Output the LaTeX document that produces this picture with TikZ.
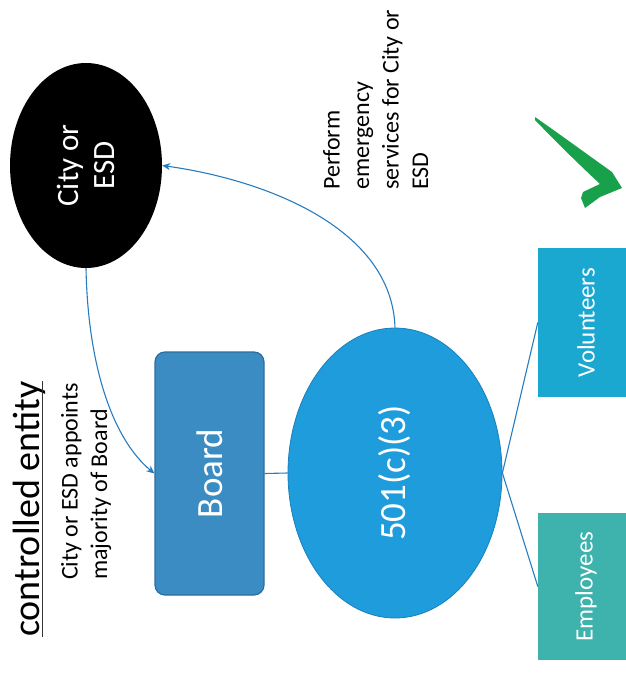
\documentclass[tikz,border=0pt]{standalone}
\usepackage{fontspec}
\setmainfont{Carlito}
\usetikzlibrary{positioning}
\usetikzlibrary{shapes.geometric}
\usetikzlibrary{arrows.meta}
\definecolor{board colour}{RGB}{60,140,196}
\definecolor{board edge}{RGB}{44,108,158}
\definecolor{org colour}{RGB}{30,156,220}
\definecolor{org edge}{RGB}{26,128,188}
\definecolor{volunteer colour}{RGB}{26,168,208}
\definecolor{employee colour}{RGB}{62,178,172}
\definecolor{link colour}{RGB}{40,124,190}
\definecolor{tick colour}{RGB}{24,160,74}
\tikzset{
    % Everything in the slide reads from bottom to top
    upright/.style={rotate=90},
%
    % Shapes
    entity/.style={
        ellipse, upright, inner sep=0, text=white, align=center},
    box/.style={
        rectangle, upright, inner sep=0, text=white, align=center},
%
    % Lines
    link/.style={draw=link colour, line width=1.1pt},
    control/.style={link, -{Stealth[length=8pt, width=7pt]}},
%
    % Text
    note/.style={
        upright, inner sep=0, align=left, anchor=north west,
        font=\fontsize{24}{29.5}\selectfont},
    title text/.style={
        upright, inner sep=0, anchor=base west,
        font=\fontsize{38}{44}\selectfont},
}

\begin{document}
\begin{tikzpicture}[x=1pt, y=-1pt]
    \useasboundingbox (0,0) rectangle (626,673);

    % Title and notes
    \node [title text] (title) at (39,637) {controlled entity};
    \draw [line width=1.8pt, black!80]
        ([xshift=3.5pt]title.base west) -- ([xshift=3.5pt]title.base east);
    \node [note] (appoint) at (61,580)
        {City or ESD appoints\\majority of Board};
    \node [note] (perform) at (323,190)
        {Perform\\emergency\\services for City or\\ESD};

    % The entities
    \node [entity, fill=black, minimum width=205, minimum height=152,
        font=\fontsize{31}{36}\selectfont] (city) at (86,165.5) {City or\\ESD};
    \node [box, fill=board colour, draw=board edge, line width=1.2pt,
        rounded corners=10pt, minimum width=243, minimum height=109,
        font=\fontsize{37}{44}\selectfont] (board) at (209.5,473.5) {Board};
    \node [entity, fill=org colour, draw=org edge, line width=0.8pt,
        minimum width=290, minimum height=214,
        font=\fontsize{37}{44}\selectfont] (org) at (395,473) {501(c)(3)};
    \node [box, fill=volunteer colour, minimum width=149, minimum height=96,
        font=\fontsize{25}{30}\selectfont] (vol) at (586,322.5) {Volunteers};
    \node [box, fill=employee colour, minimum width=147, minimum height=96,
        font=\fontsize{25}{30}\selectfont] (emp) at (586,586.5) {Employees};

    % Connectors
    \path [control] (org.east) .. controls +(-3,-98) and +(107,15) .. (city.south);
    \path [control] (city.west) .. controls +(2,102) and +(-40,-33) .. (board.north);
    \path [link] (board.south) -- (org.north);
    \path [link] (org.south) -- (vol.north);
    \path [link] (org.south) -- (emp.north);

    % Tick
    \fill [tick colour] (535,117) .. controls (565,138) and (595,160) .. (612,172)
        -- (622,188) -- (600,197) -- (585,208) -- (581,198) -- (583,192)
        -- (600,184) .. controls (585,170) and (560,146) .. (535,120) -- cycle;
\end{tikzpicture}
\end{document}
